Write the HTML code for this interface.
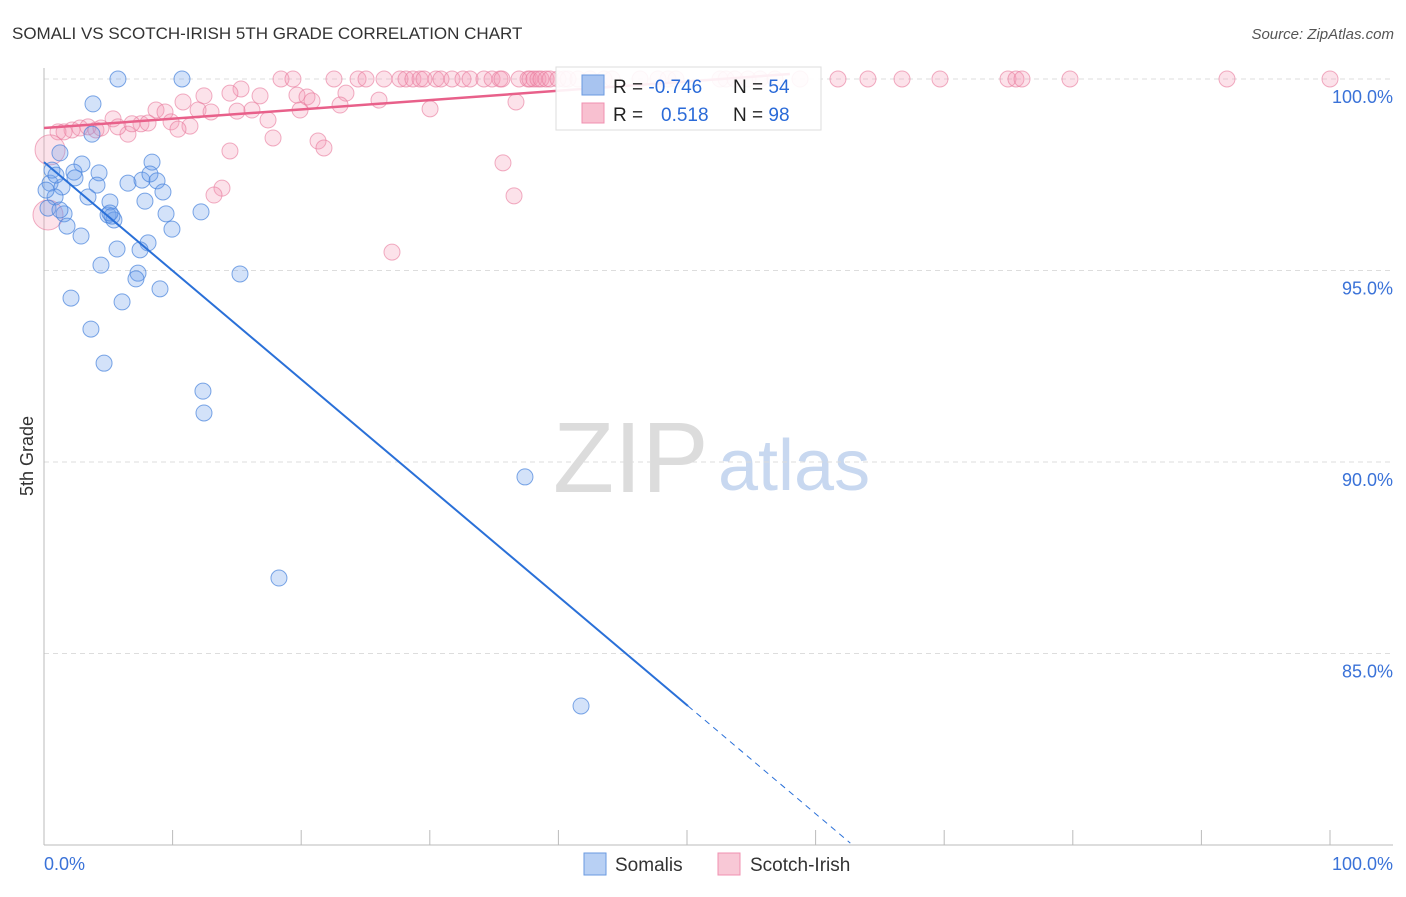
<!DOCTYPE html>
<html><head><meta charset="utf-8"><style>
body{margin:0;background:#fff;font-family:"Liberation Sans",sans-serif}
svg text{font-family:"Liberation Sans",sans-serif}
</style></head><body>
<svg id="chart" width="1406" height="892" viewBox="0 0 1406 892" xmlns="http://www.w3.org/2000/svg">
<text x="12" y="39" font-size="17" fill="#333">SOMALI VS SCOTCH-IRISH 5TH GRADE CORRELATION CHART</text>
<text x="1394" y="39" font-size="15" fill="#555" text-anchor="end" font-style="italic">Source: ZipAtlas.com</text>
<g>
<text x="553" y="492" font-size="100" fill="#dcdcdc" font-family="Liberation Serif, serif">ZIP</text>
<text x="718" y="490" font-size="72" fill="#c8d8f0">atlas</text>
</g>
<g id="grid"></g>
<g id="axes"></g>
<g id="marks"></g>
<text transform="translate(33,456) rotate(-90)" font-size="18" fill="#333" text-anchor="middle">5th Grade</text>
<g>
<rect x="556" y="67" width="265" height="63" fill="#fff" fill-opacity="0.9" stroke="#ddd"/>
<rect x="582" y="75" width="22" height="20" fill="#a8c4f0" stroke="#6a9ae0"/>
<rect x="582" y="103" width="22" height="20" fill="#f8c0d0" stroke="#f090b0"/>
<text x="613" y="93" font-size="19" fill="#222">R = <tspan fill="#2a6ad8">-0.746</tspan></text>
<text x="733" y="93" font-size="19" fill="#222">N = <tspan fill="#2a6ad8">54</tspan></text>
<text x="613" y="121" font-size="19" fill="#222">R = <tspan fill="#2a6ad8" x="661">0.518</tspan></text>
<text x="733" y="121" font-size="19" fill="#222">N = <tspan fill="#2a6ad8">98</tspan></text>
</g>
<g>
<rect x="584" y="853" width="22" height="22" fill="#b8d0f4" stroke="#6a9ae0"/>
<text x="615" y="871" font-size="19" fill="#333">Somalis</text>
<rect x="718" y="853" width="22" height="22" fill="#f8c8d6" stroke="#f090b0"/>
<text x="750" y="871" font-size="19" fill="#333">Scotch-Irish</text>
</g>
</svg>
<script>
const yTicks=[100,95,90,85];
const yTickLabels=["100.0%","95.0%","90.0%","85.0%"];
const xTickVals=[0,10,20,30,40,50,60,70,80,90,100];
const somaliX=[5.75,10.73,3.81,1.24,3.73,2.95,8.40,0.47,2.33,4.28,1.40,4.12,6.53,7.62,8.24,8.79,9.25,3.42,5.13,7.85,0.86,1.56,4.98,5.44,9.49,9.95,12.21,1.79,2.88,8.09,5.68,7.47,4.43,7.31,7.15,15.24,9.02,2.10,6.07,3.65,4.67,12.36,12.44,37.40,18.27,41.76,0.31,0.62,0.93,2.41,5.29,0.16,5.13,1.24];
const somaliY=[100,100,99.35,98.07,98.56,97.78,97.83,97.28,97.57,97.55,97.18,97.23,97.28,97.36,97.52,97.34,97.05,96.92,96.79,96.81,96.92,96.48,96.45,96.32,96.48,96.08,96.53,96.16,95.90,95.72,95.56,95.54,95.14,94.93,94.78,94.91,94.52,94.28,94.18,93.47,92.58,91.85,91.28,89.61,86.97,83.63,96.63,97.62,97.49,97.42,96.42,97.10,96.50,96.58];
const scotchX=[18.43,19.36,22.55,24.42,25.04,26.44,27.68,28.15,28.69,29.24,29.55,30.48,30.87,31.73,32.58,33.13,34.21,34.84,35.46,35.61,36.94,37.64,37.79,38.10,38.41,38.65,39.04,39.35,39.97,40.44,40.75,41.52,42.46,43.55,44.17,46.35,47.74,48.52,49.14,52.57,53.03,53.73,54.74,55.68,56.84,58.79,61.74,64.07,66.72,69.67,74.96,75.58,76.05,79.78,91.99,100,
15.32,16.80,19.67,20.45,20.84,23.48,26.05,30.02,36.70,10.81,12.44,14.46,8.71,9.41,11.98,12.99,15.01,16.17,19.91,23.02,5.37,7.54,9.88,11.35,10.42,6.53,4.04,2.18,2.80,3.42,1.09,1.56,4.43,5.75,6.84,8.09,17.42,17.81,21.31,21.77,14.46,35.69,13.84,13.22,36.55,27.06,0.47,0.31];
const scotchY=[100,100,100,100,100,100,100,100,100,100,100,100,100,100,100,100,100,100,100,100,100,100,100,100,100,100,100,100,100,100,100,100,100,100,100,100,100,100,100,100,100,100,100,100,100,100,100,100,100,100,100,100,100,100,100,100,
99.74,99.56,99.58,99.53,99.43,99.63,99.45,99.22,99.40,99.40,99.56,99.63,99.19,99.14,99.19,99.14,99.16,99.19,99.19,99.32,98.96,98.83,98.88,98.77,98.69,98.56,98.67,98.67,98.72,98.75,98.62,98.62,98.72,98.75,98.83,98.85,98.93,98.46,98.38,98.20,98.12,97.81,97.15,96.97,96.95,95.48,98.15,96.45];
const scotchBig=[98.15,96.45];
const somaliTrend=[[0,97.83],[50.08,83.63],[62.7,80.05]];
const scotchTrend=[[0,98.72],[58,100.13]];

const X0=44,X1=1330,Y100=79,PX5=191.5;
const sx=v=>X0+(X1-X0)*v/100;
const sy=v=>Y100+(100-v)*PX5/5;
const NS="http://www.w3.org/2000/svg";
function mk(tag,attrs,parent){const e=document.createElementNS(NS,tag);for(const k in attrs)e.setAttribute(k,attrs[k]);parent.appendChild(e);return e;}
const grid=document.getElementById('grid'),axes=document.getElementById('axes'),marks=document.getElementById('marks');
yTicks.forEach((t,i)=>{
 const l=mk('line',{x1:X0,x2:1393,y1:sy(t),y2:sy(t),stroke:'#ddd','stroke-dasharray':'5,4'},grid);
 
 
 const tx=mk('text',{x:1393,y:sy(t)+24,'font-size':18,fill:'#3a72d8','text-anchor':'end'},axes);
 tx.textContent=yTickLabels[i];
 
 
});
const ya=mk('line',{x1:X0,x2:X0,y1:68,y2:845,stroke:'#bbb'},axes);


const xa=mk('line',{x1:X0,x2:1393,y1:845,y2:845,stroke:'#bbb'},axes);


xTickVals.forEach(v=>{
 const t=mk('line',{x1:sx(v),x2:sx(v),y1:830,y2:845,stroke:'#bbb'},axes);
 
 
});
const xl0=mk('text',{x:X0,y:870,'font-size':18,fill:'#3a72d8'},axes);xl0.textContent='0.0%';


const xl1=mk('text',{x:1393,y:870,'font-size':18,fill:'#3a72d8','text-anchor':'end'},axes);xl1.textContent='100.0%';



scotchX.forEach((x,i)=>{
 const big=(i>=scotchX.length-2);
 const c=mk('circle',{cx:sx(x),cy:sy(scotchY[i]),r:big?15:8,fill:'rgba(244,150,180,0.28)',stroke:'rgba(232,120,155,0.6)','stroke-width':1},marks);
 
 
});
somaliX.forEach((x,i)=>{
 const c=mk('circle',{cx:sx(x),cy:sy(somaliY[i]),r:8,fill:'rgba(110,160,235,0.3)',stroke:'rgba(70,130,220,0.7)','stroke-width':1},marks);
 
 
});
const st=somaliTrend;
const b1=mk('line',{x1:sx(st[0][0]),y1:sy(st[0][1]),x2:sx(st[1][0]),y2:sy(st[1][1]),stroke:'#2a70d8','stroke-width':2},marks);


const b2=mk('line',{x1:sx(st[1][0]),y1:sy(st[1][1]),x2:sx(st[2][0]),y2:sy(st[2][1]),stroke:'#2a70d8','stroke-width':1,'stroke-dasharray':'6,5'},marks);


const p1=mk('line',{x1:sx(scotchTrend[0][0]),y1:sy(scotchTrend[0][1]),x2:sx(scotchTrend[1][0]),y2:sy(scotchTrend[1][1]),stroke:'#e8608a','stroke-width':2.5},marks);


</script>
</body></html>
